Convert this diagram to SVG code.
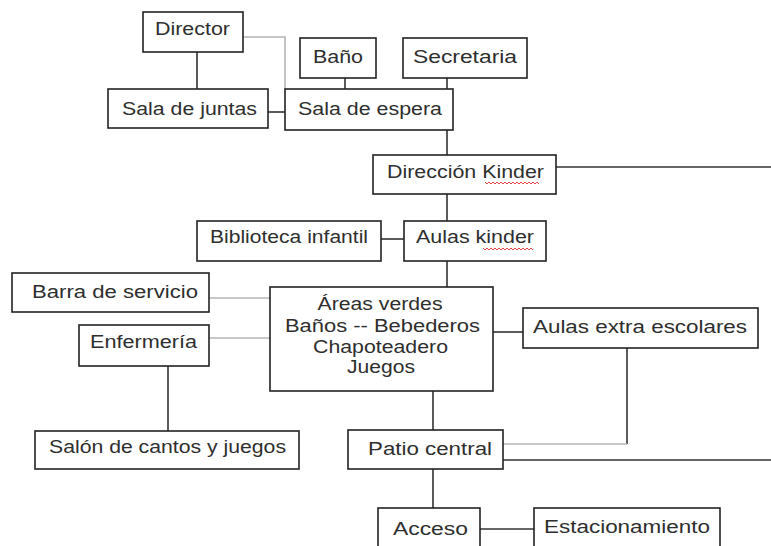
<svg xmlns="http://www.w3.org/2000/svg" width="771" height="546" viewBox="0 0 771 546">
<style>
.box{fill:#fff;stroke:#222;stroke-width:1.6}
.t{font-family:"Liberation Sans",Arial,sans-serif;font-size:17.5px;fill:#2e2e2e;text-anchor:middle}
.c{fill:none;stroke:#333;stroke-width:1.6}
.g{fill:none;stroke:#b4b4b4;stroke-width:1.6}
.sq{fill:none;stroke:#e03030;stroke-width:0.9}
</style>
<rect width="771" height="546" fill="#fff"/>
<g id="connectors">
<path class="g" d="M243,37 H285 V89"/>
<path class="c" d="M197,52 V89"/>
<path class="c" d="M268,112 H285"/>
<path class="c" d="M345,78 V89"/>
<path class="c" d="M447,78 V89"/>
<path class="c" d="M447,130 V155"/>
<path class="c" d="M556,167 H771"/>
<path class="c" d="M447,194 V221"/>
<path class="c" d="M381,239 H404"/>
<path class="c" d="M447,261 V287"/>
<path class="g" d="M209,298 H270"/>
<path class="g" d="M209,338 H270"/>
<path class="c" d="M168,366 V431"/>
<path class="c" d="M493,332 H523"/>
<path class="c" d="M433,391 V430"/>
<path class="c" d="M627,348 V444"/>
<path class="g" d="M627,444 H503"/>
<path class="c" d="M503,460 H771"/>
<path class="c" d="M433,469 V508"/>
<path class="c" d="M480,529 H534"/>
</g>
<g id="director"><rect class="box" x="143" y="12" width="100" height="40"/><text class="t" x="192.5" y="35" textLength="75" lengthAdjust="spacingAndGlyphs">Director</text></g>
<g id="bano"><rect class="box" x="300" y="38" width="76" height="40"/><text class="t" x="338" y="63" textLength="50" lengthAdjust="spacingAndGlyphs">Baño</text></g>
<g id="secretaria"><rect class="box" x="403" y="38" width="124" height="40"/><text class="t" x="465" y="63" textLength="104" lengthAdjust="spacingAndGlyphs">Secretaria</text></g>
<g id="sala-juntas"><rect class="box" x="108" y="89" width="160" height="39"/><text class="t" x="189.5" y="115" textLength="135" lengthAdjust="spacingAndGlyphs">Sala de juntas</text></g>
<g id="sala-espera"><rect class="box" x="285" y="89" width="168" height="41"/><text class="t" x="370" y="115" textLength="144" lengthAdjust="spacingAndGlyphs">Sala de espera</text></g>
<g id="direccion-kinder"><rect class="box" x="373" y="155" width="183" height="39"/><text class="t" x="465.5" y="178" textLength="157" lengthAdjust="spacingAndGlyphs">Dirección Kinder</text><path class="sq" d="M485,182 l2,2 l2,-2 l2,2 l2,-2 l2,2 l2,-2 l2,2 l2,-2 l2,2 l2,-2 l2,2 l2,-2 l2,2 l2,-2 l2,2 l2,-2 l2,2 l2,-2 l2,2 l2,-2 l2,2 l2,-2 l2,2 l2,-2 l2,2 l2,-2 l2,2"/></g>
<g id="biblioteca"><rect class="box" x="197" y="221" width="184" height="40"/><text class="t" x="289" y="243" textLength="158" lengthAdjust="spacingAndGlyphs">Biblioteca infantil</text></g>
<g id="aulas-kinder"><rect class="box" x="404" y="221" width="142" height="40"/><text class="t" x="475" y="243" textLength="118" lengthAdjust="spacingAndGlyphs">Aulas kinder</text><path class="sq" d="M483,248 l2,2 l2,-2 l2,2 l2,-2 l2,2 l2,-2 l2,2 l2,-2 l2,2 l2,-2 l2,2 l2,-2 l2,2 l2,-2 l2,2 l2,-2 l2,2 l2,-2 l2,2 l2,-2 l2,2 l2,-2 l2,2 l2,-2 l2,2"/></g>
<g id="barra"><rect class="box" x="12" y="273" width="197" height="39"/><text class="t" x="115" y="298" textLength="166" lengthAdjust="spacingAndGlyphs">Barra de servicio</text></g>
<g id="areas-verdes"><rect class="box" x="270" y="287" width="223" height="104"/>
<text class="t" x="380" y="310" textLength="125" lengthAdjust="spacingAndGlyphs">Áreas verdes</text>
<text class="t" x="382.5" y="332" textLength="195" lengthAdjust="spacingAndGlyphs">Baños -- Bebederos</text>
<text class="t" x="380.5" y="353" textLength="135" lengthAdjust="spacingAndGlyphs">Chapoteadero</text>
<text class="t" x="381" y="373" textLength="68" lengthAdjust="spacingAndGlyphs">Juegos</text></g>
<g id="enfermeria"><rect class="box" x="79" y="325" width="130" height="41"/><text class="t" x="143.5" y="348" textLength="107" lengthAdjust="spacingAndGlyphs">Enfermería</text></g>
<g id="aulas-extra"><rect class="box" x="523" y="308" width="235" height="40"/><text class="t" x="640" y="333" textLength="214" lengthAdjust="spacingAndGlyphs">Aulas extra escolares</text></g>
<g id="salon"><rect class="box" x="35" y="431" width="264" height="38"/><text class="t" x="167.5" y="453" textLength="237" lengthAdjust="spacingAndGlyphs">Salón de cantos y juegos</text></g>
<g id="patio"><rect class="box" x="348" y="430" width="155" height="39"/><text class="t" x="430" y="455" textLength="124" lengthAdjust="spacingAndGlyphs">Patio central</text></g>
<g id="acceso"><rect class="box" x="378" y="508" width="102" height="50"/><text class="t" x="430.5" y="535" textLength="75" lengthAdjust="spacingAndGlyphs">Acceso</text></g>
<g id="estacionamiento"><rect class="box" x="534" y="508" width="186" height="50"/><text class="t" x="627" y="533" textLength="166" lengthAdjust="spacingAndGlyphs">Estacionamiento</text></g>
</svg>
